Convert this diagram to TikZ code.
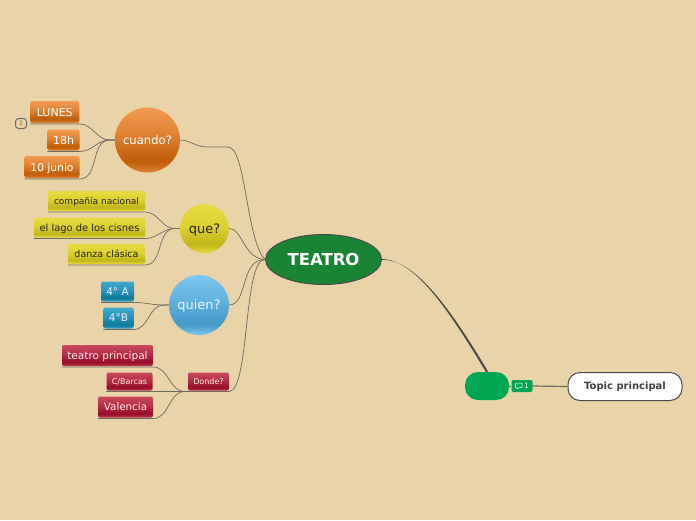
\documentclass[tikz,border=0pt]{standalone}
\usepackage{fontspec}
\setmainfont{DejaVu Sans}
\usetikzlibrary{shapes.geometric}

\definecolor{paper}{HTML}{E8D4A8}
\definecolor{branch}{HTML}{6F6A62}
\definecolor{rootgreen}{HTML}{1A8435}
\definecolor{blobgreen}{HTML}{00A651}
\definecolor{outline}{HTML}{4A4A4A}

% top, middle, dark end of the band, lower lip
\newcommand{\mindshade}[5]{%
  \pgfdeclareverticalshading{#1}{100bp}{%
    color(0bp)=(#5); color(27bp)=(#5); color(33bp)=(#4); color(36bp)=(#4);
    color(52bp)=(#3); color(75bp)=(#2); color(100bp)=(#2)}}
\definecolor{orA}{HTML}{F19B52}\definecolor{orB}{HTML}{DD7F30}
\definecolor{orC}{HTML}{C1600C}\definecolor{orD}{HTML}{D67A2C}
\definecolor{yeA}{HTML}{E6DC42}\definecolor{yeB}{HTML}{DCD130}
\definecolor{yeC}{HTML}{C4B91C}\definecolor{yeD}{HTML}{DED234}
\definecolor{blA}{HTML}{7CC8F0}\definecolor{blB}{HTML}{5EB0DC}
\definecolor{blC}{HTML}{479BC8}\definecolor{blD}{HTML}{72BEE6}
\definecolor{tlA}{HTML}{3FAACB}\definecolor{tlB}{HTML}{2B94B6}
\definecolor{tlC}{HTML}{127C9E}\definecolor{tlD}{HTML}{2E9CBE}
\definecolor{reA}{HTML}{C84A5E}\definecolor{reB}{HTML}{B42C44}
\definecolor{reC}{HTML}{98102C}\definecolor{reD}{HTML}{B83048}
\mindshade{orangeshade}{orA}{orB}{orC}{orD}
\mindshade{yellowshade}{yeA}{yeB}{yeC}{yeD}
\mindshade{blueshade}{blA}{blB}{blC}{blD}
\mindshade{tealshade}{tlA}{tlB}{tlC}{tlD}
\mindshade{redshade}{reA}{reB}{reC}{reD}

\tikzset{
  leaf/.style={rectangle, rounded corners=2pt, inner sep=0pt, outer ysep=1pt, align=center, text depth=0pt},
  orangeleaf/.style={leaf, shading=orangeshade, text=white},
  yellowleaf/.style={leaf, shading=yellowshade, text=black!85},
  tealleaf/.style={leaf, shading=tealshade, text=blue!8},
  redleaf/.style={leaf, shading=redshade, text=white!92!red},
  ball/.style={circle, inner sep=0pt, text depth=0pt},
  link/.style={draw=branch, line width=.7pt},
}

\begin{document}
\begin{tikzpicture}[x=1pt, y=-1pt]
  \useasboundingbox (0,0) rectangle (696,520);
  \fill[paper] (0,0) rectangle (696,520);

  % main topic
  \node[ellipse, draw=outline, line width=1pt, fill=rootgreen, minimum width=116pt, minimum height=50pt,
    inner sep=0pt, text=white, font=\fontsize{16.5}{20}\selectfont\bfseries] (teatro) at (323.5,259.5) {\raisebox{-.8pt}{TEATRO}};

  % first level
  \node[ball, shading=orangeshade, minimum size=65pt, text=white, font=\fontsize{11.6}{14}\selectfont] (cuando) at (147.5,140) {cuando?};
  \node[ball, shading=yellowshade, minimum size=49pt, text=black!85, font=\fontsize{13}{16}\selectfont] (que) at (204.5,228.5) {que?};
  \node[ball, shading=blueshade, minimum size=60pt, text=blue!6, font=\fontsize{13}{16}\selectfont] (quien) at (199,305) {quien?};
  \node[redleaf, minimum width=41pt, minimum height=18pt, font=\fontsize{8}{10}\selectfont] (donde) at (208.5,381.5) {Donde?};

  % leaves
  \node[orangeleaf, minimum width=49pt, minimum height=22pt, font=\fontsize{11}{13}\selectfont] (lunes) at (54.8,112) {LUNES};
  \node[orangeleaf, minimum width=32pt, minimum height=21pt, font=\fontsize{11}{13}\selectfont] (horas) at (63.5,140) {18h};
  \node[orangeleaf, minimum width=55pt, minimum height=22pt, font=\fontsize{10.7}{13}\selectfont] (junio) at (52,167) {10 junio};
  \node[yellowleaf, minimum width=97pt, minimum height=20pt, font=\fontsize{9}{12}\selectfont] (compania) at (96.5,201) {compañía nacional};
  \node[yellowleaf, minimum width=111pt, minimum height=20pt, font=\fontsize{9.9}{13}\selectfont] (lago) at (89.5,227.5) {el lago de los cisnes};
  \node[yellowleaf, minimum width=77pt, minimum height=20pt, font=\fontsize{9.5}{13}\selectfont] (danza) at (106.5,254) {danza clásica};
  \node[tealleaf, minimum width=33pt, minimum height=20pt, font=\fontsize{10.5}{13}\selectfont] (cuartoA) at (117.5,291.5) {4° A};
  \node[tealleaf, minimum width=30pt, minimum height=21pt, font=\fontsize{10.5}{13}\selectfont] (cuartoB) at (118.5,318) {4°B};
  \node[redleaf, minimum width=91pt, minimum height=21pt, font=\fontsize{10.5}{13}\selectfont] (principal) at (107.5,355.5) {teatro principal};
  \node[redleaf, minimum width=46pt, minimum height=18pt, font=\fontsize{8}{10}\selectfont] (barcas) at (129.5,381.5) {C/Barcas};
  \node[redleaf, minimum width=55pt, minimum height=21pt, font=\fontsize{10.3}{13}\selectfont] (valencia) at (125.5,407) {Valencia};

  % little counter next to LUNES
  \node[draw=branch, rounded corners=3pt, line width=1pt, minimum width=11pt, minimum height=10pt, inner sep=0pt,
    text=branch, font=\fontsize{6}{7}\selectfont] (contador) at (21,123.5) {2};

  % right side
  \node[rectangle, rounded corners=13pt, fill=blobgreen, minimum width=44pt, minimum height=28pt, inner sep=0pt] (blob) at (487,386) {};
  \node[rectangle, rounded corners=2pt, fill=blobgreen, minimum width=21pt, minimum height=12pt, inner sep=0pt,
    text=white, font=\fontsize{7.5}{9}\selectfont] (nota) at (522,386) {\hspace{9pt}1};
  \node[rectangle, rounded corners=12pt, draw=outline, line width=1pt, fill=white, minimum width=114pt, minimum height=28pt,
    inner sep=0pt, text=black!75, font=\fontsize{10}{12}\selectfont\bfseries] (topic) at (625,386.5) {Topic principal};
  \draw[white, line width=.5pt, rounded corners=.6pt] ([xshift=-6.5pt,yshift=2.8pt]nota.center) -- ++(6.5,0) -- ++(0,4.4)
    -- ++(-3.5,0) -- ++(-1.3,1.5) -- ++(0,-1.5) -- ++(-1.7,0) -- cycle;

  % leaves to their topics
  \foreach \leafname/\hubname in {lunes/cuando, horas/cuando, junio/cuando, compania/que, lago/que, danza/que, cuartoA/quien, cuartoB/quien}
    \draw[link] (\leafname.south west) -- (\leafname.south east) to[out=0, in=180] ([xshift=-5pt]\hubname.west) -- (\hubname.west);
  \foreach \leafname in {principal, valencia}
    \draw[link] (\leafname.south west) -- (\leafname.south east) to[out=0, in=180] ([xshift=-3pt]donde.south west) -- (donde.south west);
  \draw[link] (barcas.south west) -- (donde.south west);

  % topics to the main one
  \draw[link] (cuando.east) .. controls (190,140) and (195,147) .. (208,147) -- (228,147) .. controls (246,147) and (246,240) .. (teatro.west);
  \draw[link] (que.east) .. controls (242,228) and (244,259) .. (teatro.west);
  \draw[link] (quien.east) .. controls (248,305) and (240,259) .. (teatro.west);
  \draw[link] (donde.south west) -- (donde.south east) .. controls (250,390) and (243,259) .. (teatro.west);

  % widens on its way down
  \fill[outline] ([yshift=-.4pt]teatro.east) .. controls (415,258.6) and (451,309.5) .. ([xshift=1.2pt]blob.north)
    -- ([xshift=-1.2pt]blob.north) .. controls (449,310.5) and (415,259.4) .. ([yshift=.4pt]teatro.east) -- cycle;
  \draw[link, line width=1pt] (blob.east) -- (nota.west);
  \draw[link, line width=1.2pt] (nota.east) -- (topic.west);
\end{tikzpicture}
\end{document}
